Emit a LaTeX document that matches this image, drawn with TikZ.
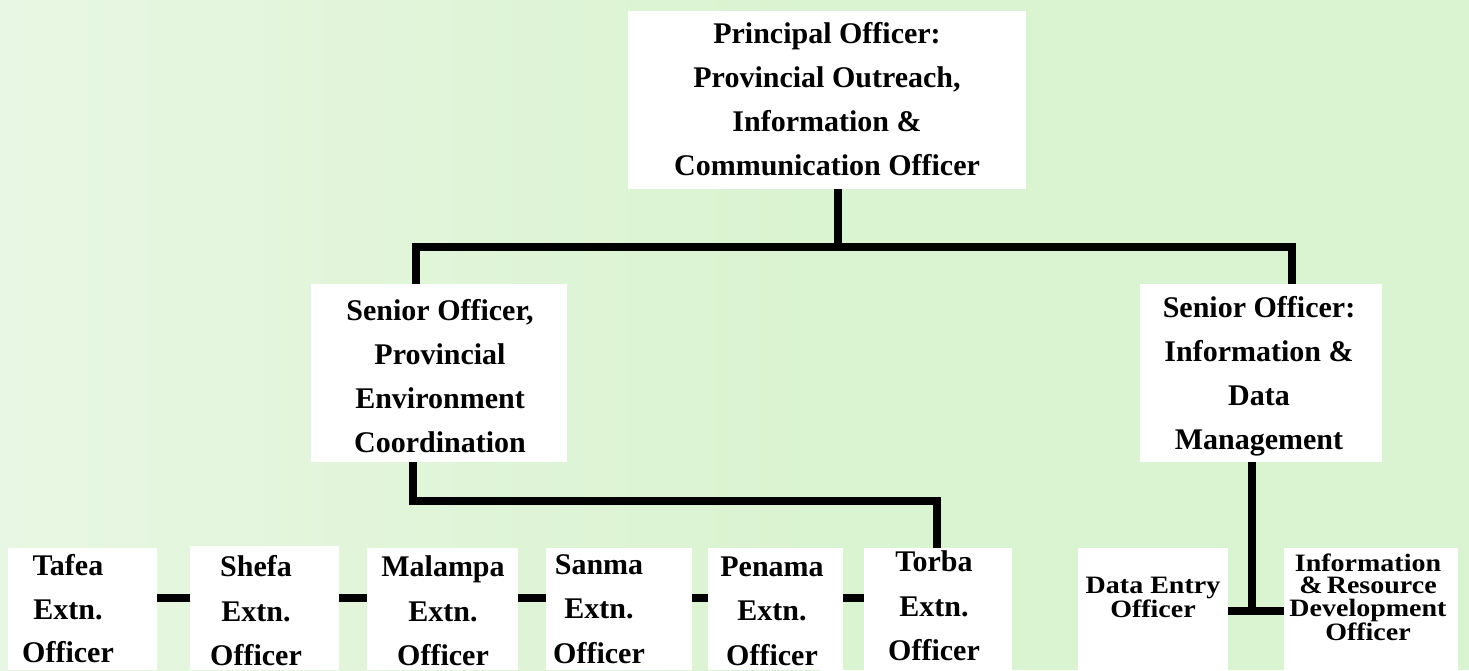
\documentclass[tikz,border=0pt]{standalone}
\usepackage{fontspec}
\setmainfont{Liberation Serif}
\newfontfamily\widefont[FakeStretch=1.12]{Liberation Serif}
\definecolor{bgL}{HTML}{E8F7E3}
\definecolor{bgM}{HTML}{DAF3D0}
\definecolor{bgR}{HTML}{D8F3CD}
\begin{document}
\begin{tikzpicture}[x=1pt,y=-1pt,
  box/.style={fill=white,draw=none,inner sep=0pt,anchor=north west},
  lbl/.style={font=\bfseries\fontsize{30}{44}\selectfont,align=center,inner sep=0pt},
  lblb/.style={font=\bfseries\fontsize{30}{44.5}\selectfont,align=center,inner sep=0pt},
  lblt/.style={font=\bfseries\fontsize{30}{43.5}\selectfont,align=center,inner sep=0pt},
  lbls/.style={font=\widefont\bfseries\fontsize{25}{22.5}\selectfont,align=center,inner sep=0pt},
  conn/.style={line width=8.5pt,line join=miter,draw=black}]
% background
\useasboundingbox (0,0) rectangle (1469,670);
\shade[left color=bgL,right color=bgM] (0,0) rectangle (820,670);
\fill[bgM] (819,0) rectangle (1469,670);
% boxes
\node[box,minimum width=398pt,minimum height=178pt] (top) at (628,11) {};
\node[box,minimum width=256pt,minimum height=178pt] (sl) at (311,284) {};
\node[box,minimum width=242pt,minimum height=178pt] (sr) at (1140,284) {};
\node[box,minimum width=149pt,minimum height=122pt] (tafea) at (8,548) {};
\node[box,minimum width=149pt,minimum height=124pt] (shefa) at (190,546) {};
\node[box,minimum width=151pt,minimum height=122pt] (malampa) at (367,548) {};
\node[box,minimum width=146pt,minimum height=122pt] (sanma) at (546,548) {};
\node[box,minimum width=135pt,minimum height=122pt] (penama) at (708,548) {};
\node[box,minimum width=148pt,minimum height=122pt] (torba) at (864,548) {};
\node[box,minimum width=150pt,minimum height=122pt] (dataentry) at (1078,548) {};
\node[box,minimum width=174pt,minimum height=122pt] (info) at (1284,548) {};
% junction points
\coordinate (j0) at (838,247);
\coordinate (jl) at (416,247);
\coordinate (jr) at (1292,247);
\coordinate (k1) at (413,501);
\coordinate (k2) at (937,501);
\coordinate (m1) at (1252,611);
\coordinate (ch) at (0,598);
% connectors
\draw[conn] (top.south -| j0) -- (j0);
\draw[conn] (sl.north -| jl) -- (jl) -- (jr) -- (sr.north -| jr);
\draw[conn] (sl.south -| k1) -- (k1) -- (k2) -- (torba.north -| k2);
\draw[conn] (sr.south -| m1) -- (m1);
\draw[conn] (dataentry.east |- m1) -- (info.west |- m1);
\draw[conn] (tafea.east |- ch) -- (shefa.west |- ch);
\draw[conn] (shefa.east |- ch) -- (malampa.west |- ch);
\draw[conn] (malampa.east |- ch) -- (sanma.west |- ch);
\draw[conn] (sanma.east |- ch) -- (penama.west |- ch);
\draw[conn] (penama.east |- ch) -- (torba.west |- ch);
% labels
\node[lbl] (ttop) at (827,99) {Principal Officer:\\Provincial Outreach,\\Information \&\\Communication Officer};
\node[lbl] (tsl) at (440,376) {Senior Officer,\\Provincial\\Environment\\Coordination};
\node[lbl] (tsr) at (1259,376) {Senior Officer:\\Information \&\\Data\\Management};
\node[lblt] (ttafea) at (68,609) {Tafea\\Extn.\\Officer};
\node[lblb] (tshefa) at (256,611) {Shefa\\Extn.\\Officer};
\node[lblb] (tmalampa) at (443,611) {Malampa\\Extn.\\Officer};
\node[lblb] (tsanma) at (599,609) {Sanma\\Extn.\\Officer};
\node[lblb] (tpenama) at (772,611) {Penama\\Extn.\\Officer};
\node[lblb] (ttorba) at (934,606) {Torba\\Extn.\\Officer};
\node[lbls] (tdata) at (1153,597) {Data Entry\\Officer};
\node[lbls] (tinfo) at (1368,597) {Information\\\&\,Resource\\Development\\Officer};
\end{tikzpicture}
\end{document}
